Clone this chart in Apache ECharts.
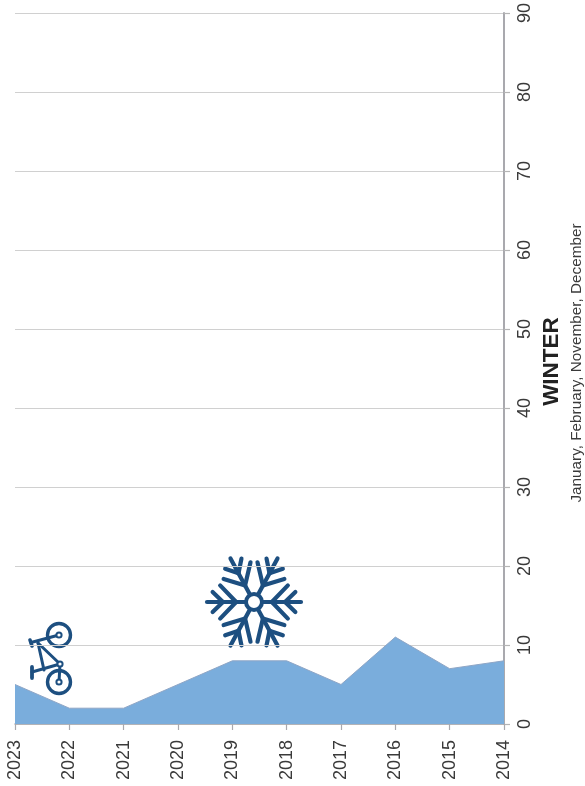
<!DOCTYPE html>
<html><head><meta charset="utf-8">
<style>html,body{margin:0;padding:0;background:#fff}#c{width:585px;height:786px}</style>
<script src="https://cdn.jsdelivr.net/npm/echarts@6/dist/echarts.min.js"></script></head>
<body><div id="c"></div>
<script>
const years=['2023','2022','2021','2020','2019','2018','2017','2016','2015','2014'];
const values=[5,2,2,5,8,8,5,11,7,8];
const yTicks=[0,90];
const title='WINTER';
const subtitle='January, February, November, December';
const chart=echarts.init(document.getElementById('c'),null,{renderer:'canvas'});
const navy='#1d4f80';
function flake(cx,cy,R){
  const els=[];
  const L=(x1,y1,x2,y2)=>els.push({type:'line',shape:{x1,y1,x2,y2},style:{stroke:navy,lineWidth:4.2,lineCap:'round'},silent:true});
  for(let k=0;k<6;k++){
    const a=k*Math.PI/3;
    const p=(r,s)=>[cx+(r*Math.cos(a)-s*Math.sin(a)),cy+1.07*(r*Math.sin(a)+s*Math.cos(a))];
    const seg=(r1,s1,r2,s2)=>{const A=p(r1,s1),B=p(r2,s2);L(A[0],A[1],B[0],B[1]);};
    seg(9,0,R,0);
    seg(R*0.66,0,R*0.88,R*0.2);seg(R*0.66,0,R*0.88,-R*0.2);
    seg(R*0.38,0,R*0.72,R*0.33);seg(R*0.38,0,R*0.72,-R*0.33);
  }
  els.push({type:'circle',shape:{cx,cy,r:8},style:{fill:'#fff',stroke:navy,lineWidth:4},silent:true});
  return els;
}
function bike(){
  const s={stroke:navy,lineWidth:3,lineCap:'round',fill:'none'};
  const ln=(x1,y1,x2,y2,w)=>({type:'line',shape:{x1,y1,x2,y2},style:Object.assign({},s,w?{lineWidth:w}:{}),silent:true});
  const c=(cx,cy,r,w,f)=>({type:'circle',shape:{cx,cy,r},style:Object.assign({},s,{lineWidth:w,fill:f||'none'}),silent:true});
  return [
    ln(59,635,31,642.5),ln(30,640,32,646,3.6),
    ln(38,643,60,664),ln(38,643,44,670),
    ln(32,672,60,664),ln(32,667,32,678,3.8),
    ln(60,664,59,682),
    c(59,635,11.5,3.4),c(59,682,11.5,3.4),
    c(59,635,2.6,2,'#fff'),c(59,682,2.6,2,'#fff'),c(60,664,2.6,2,'#fff')
  ];
}
chart.setOption({
  animation:false,
  backgroundColor:'#fff',
  grid:{left:15,right:81,top:13,bottom:62,containLabel:false},
  xAxis:{type:'category',data:years,boundaryGap:false,
    axisLine:{show:true,lineStyle:{color:'#a9a9ae',width:1.5}},
    axisTick:{show:true,alignWithLabel:true,length:6,lineStyle:{color:'#a9a9ae',width:1.2}},
    axisLabel:{rotate:90,interval:0,margin:16,color:'#3a3a3a',fontFamily:'Liberation Sans',fontSize:18},
    splitLine:{show:false}},
  yAxis:{type:'value',position:'right',min:yTicks[0],max:yTicks[1],interval:10,
    axisLine:{show:true,onZero:false,lineStyle:{color:'#a9a9ae',width:2}},
    axisTick:{show:true,length:6,lineStyle:{color:'#b5b5b5',width:1.2}},
    axisLabel:{rotate:90,margin:12,color:'#3a3a3a',fontFamily:'Liberation Sans',fontSize:18},
    splitLine:{show:true,lineStyle:{color:'#d0d0d0',width:1}}},
  series:[{type:'line',data:values,symbol:'none',smooth:false,z:3,
    lineStyle:{color:'#8fa6c6',width:1},
    areaStyle:{color:'#7aaddc',opacity:1}}],
  graphic:[
    {type:'text',x:552,y:361.5,rotation:Math.PI/2,style:{text:title,fill:'#222',font:'bold 22.5px "Liberation Sans"',align:'center',verticalAlign:'middle'},silent:true},
    {type:'text',x:577,y:363,rotation:Math.PI/2,style:{text:subtitle,fill:'#3a3a3a',font:'15.3px "Liberation Sans"',align:'center',verticalAlign:'middle'},silent:true}
  ].concat(flake(254,602,47),bike())
});
</script></body></html>
